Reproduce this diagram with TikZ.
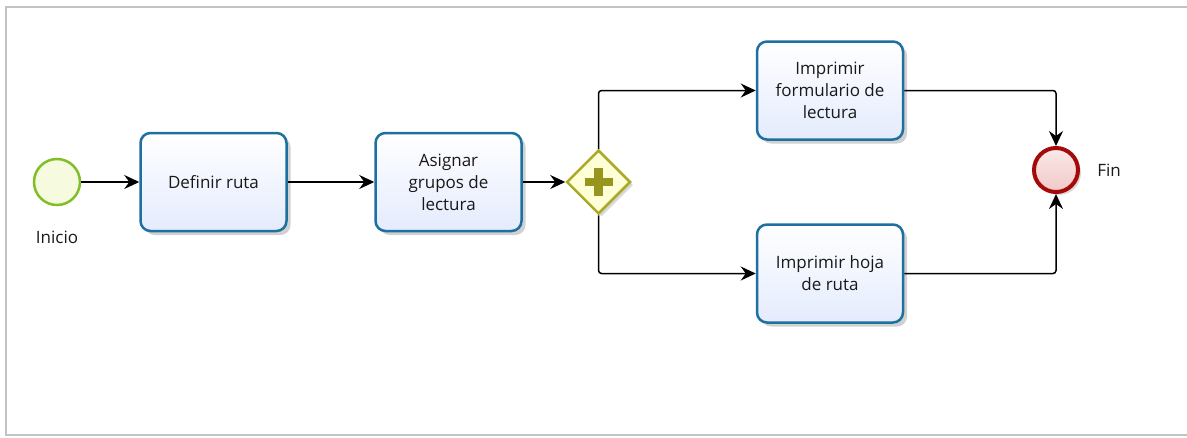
\documentclass[tikz,border=0pt]{standalone}
\usepackage{fontspec}
\setmainfont{Open Sans}
\usetikzlibrary{arrows.meta,shapes.geometric,shadows}
\definecolor{taskborder}{RGB}{30,112,160}
\definecolor{taskfill}{RGB}{228,235,253}
\definecolor{startborder}{RGB}{130,190,40}
\definecolor{startfill}{RGB}{246,250,222}
\definecolor{endborder}{RGB}{165,10,10}
\definecolor{endfill}{RGB}{242,200,200}
\definecolor{gwborder}{RGB}{170,170,40}
\definecolor{gwfill}{RGB}{255,255,215}
\definecolor{gwplus}{RGB}{150,150,30}
\definecolor{framegray}{RGB}{195,195,195}
\tikzset{
  every node/.style={font=\fontsize{17}{22}\selectfont, text=black!90},
  task/.style={draw=taskborder, line width=2.5pt, rounded corners=10pt,
    top color=white, bottom color=taskfill, minimum width=146pt, minimum height=98pt,
    align=center, drop shadow={shadow xshift=4pt, shadow yshift=-4pt, opacity=0.18, fill=black}},
  startev/.style={circle, draw=startborder, line width=2.5pt, fill=startfill, minimum size=46pt, inner sep=0pt},
  endev/.style={circle, draw=endborder, line width=4pt, top color=endfill!40, bottom color=endfill, minimum size=44pt, inner sep=0pt,
    drop shadow={shadow xshift=3pt, shadow yshift=-3pt, opacity=0.15, fill=black}},
  gwstyle/.style={diamond, draw=gwborder, line width=2.5pt, fill=gwfill, minimum width=64pt, minimum height=64pt, inner sep=0pt, aspect=1,
    drop shadow={shadow xshift=3pt, shadow yshift=-3pt, opacity=0.15, fill=black}},
  flow/.style={draw=black, line width=1.5pt, rounded corners=3pt, -{Stealth[length=15pt,width=14pt,inset=5pt]}},
  lbl/.style={font=\fontsize{17}{22}\selectfont}
}
\begin{document}
\begin{tikzpicture}[x=1pt,y=-1pt]
\useasboundingbox (0,0) rectangle (1187,437);
\fill[white] (0,0) rectangle (1187,437);
\draw[framegray, line width=2pt] (1188,7) -- (6,7) -- (6,435) -- (1188,435);

\node[startev] (start) at (57,182) {};
\node[lbl] (inicio) at (57,237) {Inicio};
\node[task] (t1) at (213.5,182) {Definir ruta};
\node[task] (t2) at (448.5,182) {Asignar\\grupos de\\lectura};
\node[gwstyle] (gw) at (598.5,182) {};
\draw[gwplus, line width=8.5pt] ([xshift=-14pt]gw.center) -- ([xshift=14pt]gw.center);
\draw[gwplus, line width=8.5pt] ([yshift=-14pt]gw.center) -- ([yshift=14pt]gw.center);
\node[task] (t3) at (830,90.5) {Imprimir\\formulario de\\lectura};
\node[task] (t4) at (830,273.5) {Imprimir hoja\\de ruta};
\node[endev] (end) at (1056,170) {};
\node[lbl] (fin) at (1109,170) {Fin};

\draw[flow] (start) -- (t1);
\draw[flow] (t1) -- (t2);
\draw[flow] (t2) -- (gw);
\draw[flow] (gw.north) |- (t3.west);
\draw[flow] (gw.south) |- (t4.west);
\draw[flow] (t3.east) -| (end.north);
\draw[flow] (t4.east) -| (end.south);
\end{tikzpicture}
\end{document}
